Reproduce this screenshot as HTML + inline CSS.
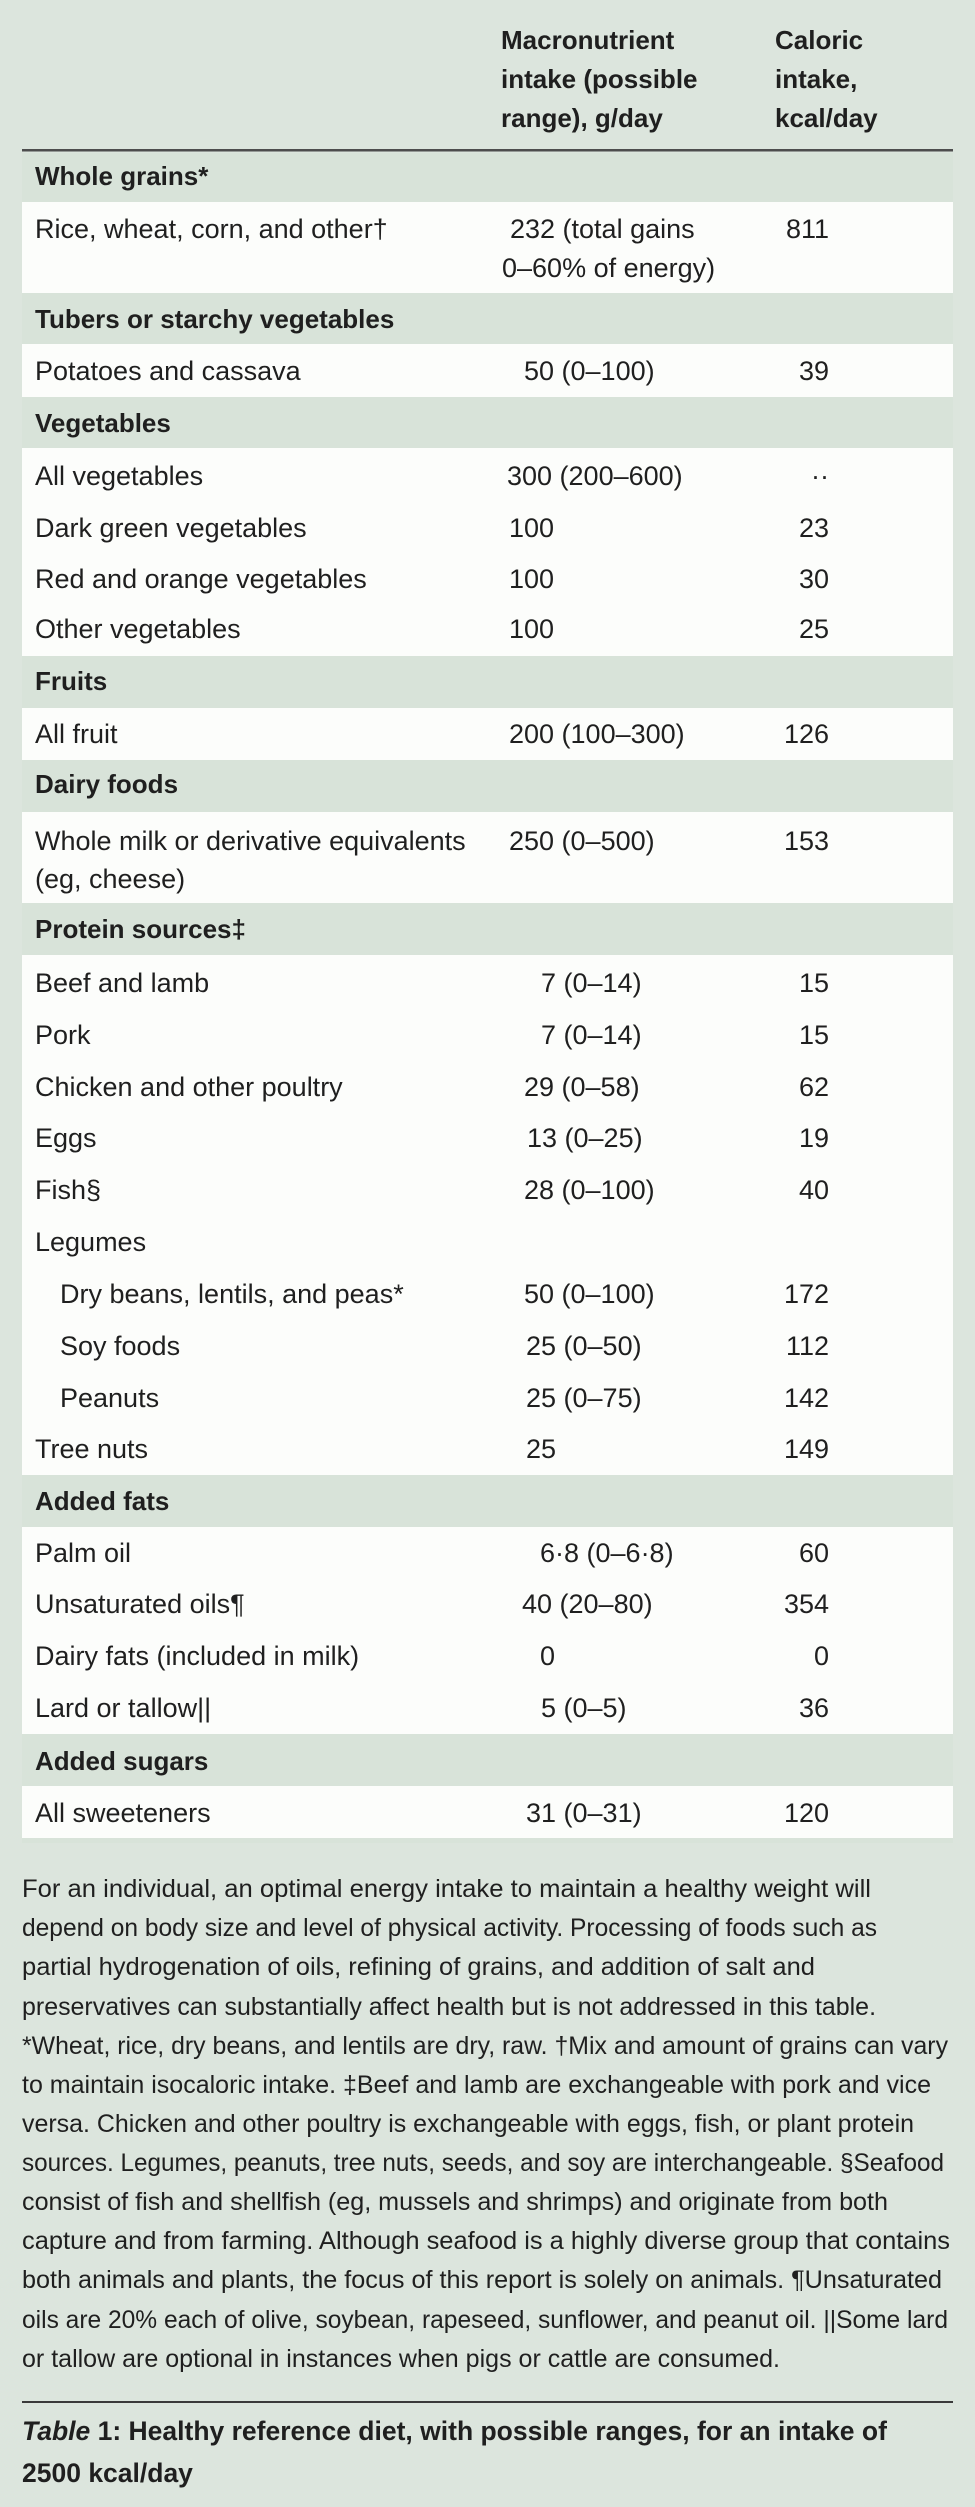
<!DOCTYPE html>
<html>
<head>
<meta charset="utf-8">
<style>
html,body{margin:0;padding:0;background:#dce5dd;}
svg{display:block;}
text{font-family:"Liberation Sans",Arial,sans-serif;fill:#1f1f1f;}
.r{font-size:27px;}
.b{font-size:26px;font-weight:bold;}
.f{font-size:25px;}
.c{font-size:26.5px;font-weight:bold;}
</style>
</head>
<body>
<svg width="975" height="2507" viewBox="0 0 975 2507" xmlns="http://www.w3.org/2000/svg">
<rect x="0" y="0" width="975" height="2507" fill="#dce5dd"/>
<rect x="22" y="153" width="931" height="1690" fill="#d8e3d9"/>

<!-- header -->
<text class="b" x="501" y="49">Macronutrient</text>
<text class="b" x="501" y="88">intake (possible</text>
<text class="b" x="501" y="127">range), g/day</text>
<text class="b" x="775" y="49">Caloric</text>
<text class="b" x="775" y="88">intake,</text>
<text class="b" x="775" y="127">kcal/day</text>
<rect x="22" y="149" width="931" height="2.5" fill="#4d4d4d"/>

<!-- white boxes -->
<rect x="22" y="202" width="931" height="91" fill="#fcfdfb"/>
<rect x="22" y="344" width="931" height="53" fill="#fcfdfb"/>
<rect x="22" y="448" width="931" height="208" fill="#fcfdfb"/>
<rect x="22" y="708" width="931" height="52" fill="#fcfdfb"/>
<rect x="22" y="812" width="931" height="91" fill="#fcfdfb"/>
<rect x="22" y="955" width="931" height="520" fill="#fcfdfb"/>
<rect x="22" y="1527" width="931" height="207" fill="#fcfdfb"/>
<rect x="22" y="1786" width="931" height="52" fill="#fcfdfb"/>

<!-- Whole grains -->
<text class="b" x="35" y="185">Whole grains*</text>
<text class="r" x="35" y="238">Rice, wheat, corn, and other†</text>
<text class="r" x="510" y="238">232 (total gains</text>
<text class="r" x="502" y="277">0–60% of energy)</text>
<text class="r" x="829" y="238" text-anchor="end">811</text>

<!-- Tubers -->
<text class="b" x="35" y="328">Tubers or starchy vegetables</text>
<text class="r" x="35" y="380">Potatoes and cassava</text>
<text class="r" x="524" y="380">50 (0–100)</text>
<text class="r" x="829" y="380" text-anchor="end">39</text>

<!-- Vegetables -->
<text class="b" x="35" y="432">Vegetables</text>
<text class="r" x="35" y="485">All vegetables</text>
<text class="r" x="507" y="485">300 (200–600)</text>
<text class="r" x="829" y="485" text-anchor="end">··</text>
<text class="r" x="35" y="537">Dark green vegetables</text>
<text class="r" x="509" y="537">100</text>
<text class="r" x="829" y="537" text-anchor="end">23</text>
<text class="r" x="35" y="588">Red and orange vegetables</text>
<text class="r" x="509" y="588">100</text>
<text class="r" x="829" y="588" text-anchor="end">30</text>
<text class="r" x="35" y="638">Other vegetables</text>
<text class="r" x="509" y="638">100</text>
<text class="r" x="829" y="638" text-anchor="end">25</text>

<!-- Fruits -->
<text class="b" x="35" y="690">Fruits</text>
<text class="r" x="35" y="743">All fruit</text>
<text class="r" x="509" y="743">200 (100–300)</text>
<text class="r" x="829" y="743" text-anchor="end">126</text>

<!-- Dairy -->
<text class="b" x="35" y="793">Dairy foods</text>
<text class="r" x="35" y="850">Whole milk or derivative equivalents</text>
<text class="r" x="35" y="888">(eg, cheese)</text>
<text class="r" x="509" y="850">250 (0–500)</text>
<text class="r" x="829" y="850" text-anchor="end">153</text>

<!-- Protein -->
<text class="b" x="35" y="938">Protein sources‡</text>
<text class="r" x="35" y="992">Beef and lamb</text>
<text class="r" x="541" y="992">7 (0–14)</text>
<text class="r" x="829" y="992" text-anchor="end">15</text>
<text class="r" x="35" y="1044">Pork</text>
<text class="r" x="541" y="1044">7 (0–14)</text>
<text class="r" x="829" y="1044" text-anchor="end">15</text>
<text class="r" x="35" y="1096">Chicken and other poultry</text>
<text class="r" x="524" y="1096">29 (0–58)</text>
<text class="r" x="829" y="1096" text-anchor="end">62</text>
<text class="r" x="35" y="1147">Eggs</text>
<text class="r" x="527" y="1147">13 (0–25)</text>
<text class="r" x="829" y="1147" text-anchor="end">19</text>
<text class="r" x="35" y="1199">Fish§</text>
<text class="r" x="524" y="1199">28 (0–100)</text>
<text class="r" x="829" y="1199" text-anchor="end">40</text>
<text class="r" x="35" y="1251">Legumes</text>
<text class="r" x="60" y="1303">Dry beans, lentils, and peas*</text>
<text class="r" x="524" y="1303">50 (0–100)</text>
<text class="r" x="829" y="1303" text-anchor="end">172</text>
<text class="r" x="60" y="1355">Soy foods</text>
<text class="r" x="526" y="1355">25 (0–50)</text>
<text class="r" x="829" y="1355" text-anchor="end">112</text>
<text class="r" x="60" y="1407">Peanuts</text>
<text class="r" x="526" y="1407">25 (0–75)</text>
<text class="r" x="829" y="1407" text-anchor="end">142</text>
<text class="r" x="35" y="1458">Tree nuts</text>
<text class="r" x="526" y="1458">25</text>
<text class="r" x="829" y="1458" text-anchor="end">149</text>

<!-- Added fats -->
<text class="b" x="35" y="1510">Added fats</text>
<text class="r" x="35" y="1562">Palm oil</text>
<text class="r" x="540" y="1562">6·8 (0–6·8)</text>
<text class="r" x="829" y="1562" text-anchor="end">60</text>
<text class="r" x="35" y="1613">Unsaturated oils¶</text>
<text class="r" x="522" y="1613">40 (20–80)</text>
<text class="r" x="829" y="1613" text-anchor="end">354</text>
<text class="r" x="35" y="1665">Dairy fats (included in milk)</text>
<text class="r" x="540" y="1665">0</text>
<text class="r" x="829" y="1665" text-anchor="end">0</text>
<text class="r" x="35" y="1717">Lard or tallow||</text>
<text class="r" x="541" y="1717">5 (0–5)</text>
<text class="r" x="829" y="1717" text-anchor="end">36</text>

<!-- Added sugars -->
<text class="b" x="35" y="1770">Added sugars</text>
<text class="r" x="35" y="1822">All sweeteners</text>
<text class="r" x="526" y="1822">31 (0–31)</text>
<text class="r" x="829" y="1822" text-anchor="end">120</text>

<!-- footnotes -->
<text class="f" x="22" y="1897" textLength="849" lengthAdjust="spacingAndGlyphs">For an individual, an optimal energy intake to maintain a healthy weight will</text>
<text class="f" x="22" y="1936" textLength="855" lengthAdjust="spacingAndGlyphs">depend on body size and level of physical activity. Processing of foods such as</text>
<text class="f" x="22" y="1975" textLength="793" lengthAdjust="spacingAndGlyphs">partial hydrogenation of oils, refining of grains, and addition of salt and</text>
<text class="f" x="22" y="2015" textLength="854" lengthAdjust="spacingAndGlyphs">preservatives can substantially affect health but is not addressed in this table.</text>
<text class="f" x="22" y="2054" textLength="926" lengthAdjust="spacingAndGlyphs">*Wheat, rice, dry beans, and lentils are dry, raw. †Mix and amount of grains can vary</text>
<text class="f" x="22" y="2093" textLength="909" lengthAdjust="spacingAndGlyphs">to maintain isocaloric intake. ‡Beef and lamb are exchangeable with pork and vice</text>
<text class="f" x="22" y="2132" textLength="892" lengthAdjust="spacingAndGlyphs">versa. Chicken and other poultry is exchangeable with eggs, fish, or plant protein</text>
<text class="f" x="22" y="2171" textLength="922" lengthAdjust="spacingAndGlyphs">sources. Legumes, peanuts, tree nuts, seeds, and soy are interchangeable. §Seafood</text>
<text class="f" x="22" y="2210" textLength="866" lengthAdjust="spacingAndGlyphs">consist of fish and shellfish (eg, mussels and shrimps) and originate from both</text>
<text class="f" x="22" y="2249" textLength="928" lengthAdjust="spacingAndGlyphs">capture and from farming. Although seafood is a highly diverse group that contains</text>
<text class="f" x="22" y="2288" textLength="920" lengthAdjust="spacingAndGlyphs">both animals and plants, the focus of this report is solely on animals. ¶Unsaturated</text>
<text class="f" x="22" y="2328" textLength="926" lengthAdjust="spacingAndGlyphs">oils are 20% each of olive, soybean, rapeseed, sunflower, and peanut oil. ||Some lard</text>
<text class="f" x="22" y="2367" textLength="758" lengthAdjust="spacingAndGlyphs">or tallow are optional in instances when pigs or cattle are consumed.</text>

<!-- caption -->
<rect x="22" y="2401" width="931" height="2" fill="#3a3a3a"/>
<text class="c" x="22" y="2440"><tspan font-style="italic">Table</tspan> 1: Healthy reference diet, with possible ranges, for an intake of</text>
<text class="c" x="22" y="2482">2500 kcal/day</text>
</svg>
</body>
</html>
